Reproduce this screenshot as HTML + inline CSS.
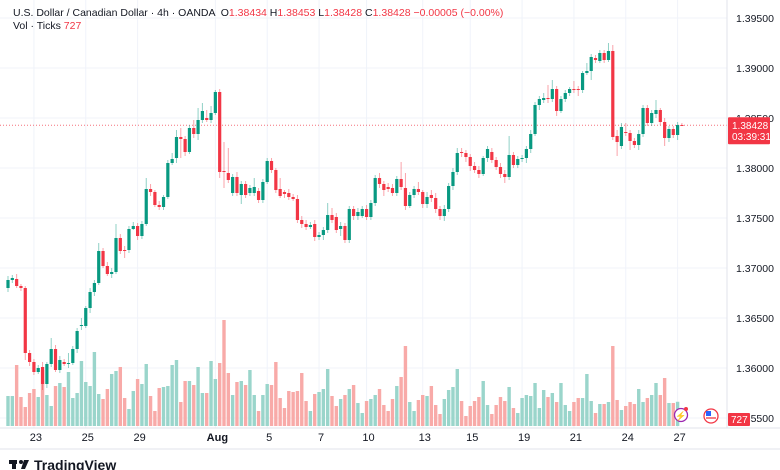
<!DOCTYPE html>
<html><head><meta charset="utf-8"><style>
body{margin:0;background:#fff;font-family:"Liberation Sans",sans-serif;}
#wrap{position:relative;width:780px;height:470px;overflow:hidden;background:#fff}
</style></head><body>
<div id="wrap">
<svg id="chart" width="780" height="470"></svg>
</div>
<script>
// price data in units of 0.0001 (pips)
const opens=[13680,13688,13689,13682,13680,13615,13606,13596,13601,13584,13604,13619,13598,13606,13604,13605,13619,13642,13642,13660,13676,13685,13717,13702,13694,13696,13730,13718,13718,13739,13742,13732,13744,13779,13776,13763,13761,13771,13805,13810,13831,13829,13816,13840,13834,13848,13850,13848,13855,13876,13797,13795,13775,13791,13773,13784,13775,13775,13777,13768,13786,13807,13798,13779,13776,13775,13771,13769,13748,13744,13741,13744,13731,13733,13738,13753,13751,13739,13742,13728,13759,13752,13752,13759,13751,13765,13790,13784,13781,13780,13775,13789,13780,13762,13773,13779,13776,13764,13773,13770,13759,13752,13759,13782,13796,13816,13815,13811,13802,13798,13794,13810,13816,13808,13801,13794,13791,13813,13803,13809,13810,13819,13834,13863,13868,13870,13869,13879,13857,13869,13875,13879,13879,13878,13895,13897,13910,13907,13915,13908,13917,13832,13822,13836,13835,13827,13823,13834,13860,13845,13854,13858,13846,13830,13839,13833,13843];
const closes=[13688,13690,13682,13680,13615,13606,13596,13600,13584,13604,13619,13598,13608,13604,13605,13619,13637,13643,13660,13676,13685,13717,13702,13694,13696,13730,13717,13717,13739,13742,13732,13744,13779,13776,13763,13761,13771,13805,13809,13831,13829,13816,13840,13834,13848,13857,13848,13855,13876,13796,13796,13788,13791,13775,13784,13773,13780,13781,13768,13786,13807,13798,13778,13772,13774,13771,13769,13748,13744,13741,13743,13731,13733,13738,13753,13748,13738,13742,13728,13759,13752,13756,13759,13751,13765,13790,13784,13778,13779,13775,13789,13781,13762,13773,13779,13776,13764,13771,13770,13759,13752,13759,13782,13796,13815,13815,13811,13802,13798,13794,13810,13819,13808,13801,13794,13791,13813,13803,13809,13810,13819,13834,13863,13869,13870,13869,13879,13857,13869,13875,13879,13878,13878,13895,13897,13911,13908,13915,13908,13917,13831,13826,13841,13835,13827,13823,13834,13860,13845,13855,13858,13846,13830,13839,13833,13843,13842.8];
const highs=[13692,13693,13694,13684,13682,13618,13609,13603,13606,13606,13630,13623,13612,13609,13615,13622,13640,13650,13662,13680,13688,13725,13720,13706,13700,13744,13734,13722,13742,13746,13745,13747,13790,13784,13778,13767,13773,13808,13815,13838,13840,13832,13843,13848,13860,13865,13858,13862,13878,13879,13826,13820,13794,13796,13787,13787,13783,13790,13780,13789,13810,13810,13800,13790,13778,13779,13774,13773,13752,13748,13746,13748,13736,13741,13765,13760,13755,13746,13745,13762,13762,13760,13762,13763,13768,13793,13795,13787,13785,13784,13792,13806,13795,13776,13782,13786,13778,13776,13778,13775,13762,13763,13785,13800,13820,13820,13818,13814,13806,13802,13812,13822,13820,13811,13805,13798,13832,13816,13812,13813,13822,13838,13866,13872,13875,13883,13888,13882,13872,13878,13881,13887,13882,13897,13905,13914,13913,13918,13918,13925,13923,13838,13845,13845,13838,13830,13838,13863,13863,13858,13868,13860,13850,13842,13842,13846,13845];
const lows=[13676,13685,13680,13677,13608,13602,13593,13594,13578,13580,13601,13596,13595,13602,13600,13603,13615,13638,13640,13655,13672,13683,13700,13692,13690,13694,13714,13710,13715,13738,13728,13729,13742,13772,13761,13758,13758,13769,13803,13805,13810,13812,13814,13830,13828,13845,13846,13845,13853,13790,13780,13785,13772,13772,13764,13770,13772,13772,13765,13765,13784,13795,13775,13770,13770,13768,13767,13745,13740,13738,13739,13727,13728,13728,13735,13745,13735,13732,13725,13725,13748,13748,13750,13748,13748,13762,13780,13772,13776,13772,13772,13778,13758,13760,13770,13773,13760,13760,13766,13755,13748,13747,13756,13778,13793,13811,13806,13797,13795,13790,13792,13806,13805,13798,13790,13785,13788,13800,13800,13806,13805,13815,13832,13858,13865,13865,13866,13852,13855,13866,13872,13875,13872,13875,13893,13888,13905,13905,13905,13906,13828,13812,13819,13832,13818,13820,13818,13831,13842,13842,13850,13843,13822,13826,13830,13828,13842];
const volumes=[900,900,1830,870,570,990,1110,870,1680,930,600,1200,1290,1170,1620,840,990,1950,1320,1200,2220,960,810,1110,1560,1650,1770,840,510,1050,1410,1260,1860,900,450,1140,1170,1200,1830,1980,720,1350,1350,1230,1770,990,990,1950,1410,1890,3180,1590,930,1320,1350,1230,1680,930,450,930,1260,1230,1920,840,540,1050,1020,1050,1590,750,450,960,1020,1110,1710,900,600,810,930,1110,1230,690,390,750,810,930,1110,630,450,810,1200,1470,2400,720,450,780,930,900,1200,630,360,810,1080,1170,1710,750,300,600,750,870,1350,630,360,630,870,750,1170,540,390,840,930,900,1290,540,1080,870,990,720,1290,630,450,720,840,840,1560,750,390,660,660,720,2400,780,480,600,720,660,1110,720,840,930,1290,930,1440,690,690,727];
const priceTicks=[13950,13900,13850,13800,13750,13700,13650,13600,13550];
const dateLabels=["23","25","29","Aug","5","7","10","13","15","19","21","24","27"];
const dateIndex=[6,18,30,48,60,72,83,96,107,119,131,143,155];

const NS="http://www.w3.org/2000/svg";
const svg=document.getElementById('chart');
const X0=8, STEP=4.32, PLOT_R=727;
function xOf(i){return X0+i*STEP;}
function yOf(p){return 18+(13950-p);}
function yVol(v){return 426-v/30;}
function el(tag,attrs,parent){const e=document.createElementNS(NS,tag);for(const k in attrs)e.setAttribute(k,attrs[k]);(parent||svg).appendChild(e);return e;}
function txt(s,attrs,parent){const e=el('text',attrs,parent);e.textContent=s;return e;}

const grid=el('g',{});


priceTicks.forEach(p=>{const l=el('line',{x1:0,x2:PLOT_R,y1:yOf(p),y2:yOf(p),stroke:'#f0f3fa','stroke-width':1},grid);

});
dateIndex.forEach(i=>{const l=el('line',{x1:xOf(i),x2:xOf(i),y1:0,y2:428,stroke:'#f0f3fa','stroke-width':1},grid);

});

const vg=el('g',{});


volumes.forEach((v,i)=>{const k=Math.min(i,closes.length-1);const up=(closes[k]>=opens[k]);
const y=yVol(v);
const r=el('rect',{x:xOf(i)-1.7,y:y,width:3.4,height:426-y,fill:up?'#9ad5cb':'#f8aaa8'},vg);

});

const cp=closes[closes.length-1];
const pl=el('line',{x1:0,x2:PLOT_R,y1:yOf(cp),y2:yOf(cp),stroke:'#f23645','stroke-width':1,'stroke-dasharray':'1 2',opacity:0.7});



const cg=el('g',{});


opens.forEach((o,i)=>{const c=closes[i];const up=c>=o;const col=up?'#089981':'#f23645';
const x=xOf(i);
const g=el('g',{},cg);


el('line',{x1:x,x2:x,y1:yOf(highs[i]),y2:yOf(lows[i]),stroke:col,'stroke-width':1,opacity:0.45},g);
const top=yOf(Math.max(o,c)),bot=yOf(Math.min(o,c));
el('rect',{x:x-1.6,y:top,width:3.2,height:Math.max(1,bot-top),fill:col},g);});

const ax=el('g',{});


el('line',{x1:PLOT_R,x2:PLOT_R,y1:0,y2:428,stroke:'#e0e3eb'},ax);
priceTicks.forEach(p=>{const t=txt((p/10000).toFixed(5),{x:736,y:yOf(p)+4,'font-size':'10.5',fill:'#131722','font-family':'Liberation Sans'},ax);

});
const badge=el('g',{});


el('rect',{x:728,y:yOf(cp)-8,width:42,height:27,fill:'#f23645',rx:1},badge);
txt((cp/10000).toFixed(5),{x:732,y:yOf(cp)+4,'font-size':'10',fill:'#fff'},badge);
txt('03:39:31',{x:732,y:yOf(cp)+15,'font-size':'10',fill:'#fff'},badge);
const vb=el('g',{});


el('rect',{x:728,y:413,width:22,height:13,fill:'#f23645',rx:1},vb);
txt(String(volumes[volumes.length-1]),{x:731,y:423,'font-size':'10',fill:'#fff'},vb);

const xa=el('g',{});


el('line',{x1:0,x2:780,y1:428,y2:428,stroke:'#e0e3eb'},xa);
dateLabels.forEach((s,k)=>{const t=txt(s,{x:xOf(dateIndex[k])+2,y:441,'font-size':'11','text-anchor':'middle',fill:'#131722','font-weight':s==='Aug'?'bold':'normal'},xa);

});
el('line',{x1:0,x2:780,y1:449,y2:449,stroke:'#e0e3eb'},xa);

const ic=el('g',{});


el('circle',{cx:681,cy:415,r:6.5,fill:'#fff',stroke:'#9c27b0','stroke-width':1.3},ic);
txt('⚡',{x:681,y:419,'font-size':'9','text-anchor':'middle',fill:'#9c27b0'},ic);
el('circle',{cx:686,cy:409,r:2,fill:'#f23645'},ic);
el('circle',{cx:711,cy:416,r:7,fill:'#fff',stroke:'#f23645','stroke-width':1.3},ic);
el('rect',{x:706,y:411,width:5,height:5,fill:'#2962ff'},ic);
el('line',{x1:706,x2:716,y1:418,y2:418,stroke:'#f23645','stroke-width':1.3},ic);

const hd=el('g',{});


const t1=el('text',{x:13,y:16,'font-size':'10.5',fill:'#131722'},hd);
t1.innerHTML='U.S. Dollar / Canadian Dollar · 4h · OANDA &#160;O<tspan fill="#f23645">1.38434</tspan> H<tspan fill="#f23645">1.38453</tspan> L<tspan fill="#f23645">1.38428</tspan> C<tspan fill="#f23645">1.38428</tspan> <tspan fill="#f23645">−0.00005 (−0.00%)</tspan>';
const t2=el('text',{x:13,y:29,'font-size':'10.5',fill:'#131722'},hd);
t2.innerHTML='Vol · Ticks <tspan fill="#f23645">727</tspan>';

const lg=el('g',{});


el('rect',{x:9,y:460,width:8,height:4,fill:'#131722'},lg);
el('rect',{x:12,y:460,width:4,height:9,fill:'#131722'},lg);
el('circle',{cx:21,cy:462,r:2,fill:'#131722'},lg);
el('path',{d:'M24 460 L29 460 L25 469 L21 469 Z',fill:'#131722'},lg);
txt('TradingView',{x:34,y:470,'font-size':'14','font-weight':'bold',fill:'#131722'},lg);
</script>
</body></html>
